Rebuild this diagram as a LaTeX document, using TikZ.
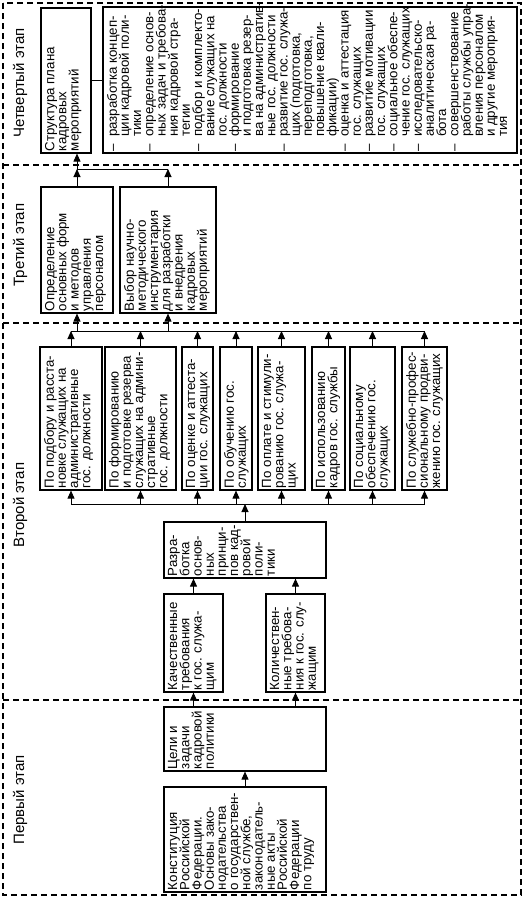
\documentclass[tikz,border=0pt]{standalone}
\usepackage{fontspec}
\setmainfont{Liberation Sans}
\usepackage{graphicx}
\usetikzlibrary{arrows.meta}
\tikzset{
  blk/.style={draw, line width=1.2pt, inner xsep=4pt, inner ysep=2pt},
  stagename/.style={rotate=90, inner sep=0pt, font=\fontsize{15}{16}\selectfont},
  frame/.style={line width=1.1pt, dash pattern=on 6pt off 4pt},
}
% lines on a fixed baseline grid, no breaking
\newcommand{\lns}[1]{\vtop{\lineskiplimit=-50pt\baselineskip=12.2pt\let\\\cr\halign{##\hfil\cr#1\crcr}}}
\newcommand{\dashlns}[1]{\vtop{\lineskiplimit=-50pt\baselineskip=12.2pt\let\\\cr\halign{##\hspace{3pt}&##\hfil\cr#1\crcr}}}
% text read from bottom to top: #1 length of the box, #2 its depth
\newcommand{\vtxt}[3]{\rotatebox{90}{\parbox[c][#2][t]{#1}{\hbox to\hsize{\lns{#3}\hfil}}}}

\begin{document}
\begin{tikzpicture}[x=1pt, y=-1pt, line width=0.9pt, >={Triangle[width=7pt,length=8pt]},
    font=\fontsize{13.3}{12.2}\selectfont]
    \useasboundingbox (0,0) rectangle (524,898);

    % Stages
    \draw[frame] (3,3) rectangle (521,895);
    \draw[frame] (3,165) -- (521,165);
    \draw[frame] (3,323) -- (521,323);
    \draw[frame] (3,700) -- (521,700);
    \node[stagename] (s4) at (20,83) {Четвертый этап};
    \node[stagename] (s3) at (20,245) {Третий этап};
    \node[stagename] (s2) at (20,505) {Второй этап};
    \node[stagename] (s1) at (20,800) {Первый этап};

    % Nodes
    \node[blk] (strukt) at (66,80.5) {\vtxt{141pt}{42pt}{Структура плана\\кадровых\\мероприятий}};
    \node[blk] (list) at (310,80) {\rotatebox{90}{\parbox[c][406pt][t]{142pt}{\hbox to\hsize{\dashlns{%
      – & разработка концеп-\\ & ции кадровой поли-\\ & тики\\
      – & определение основ-\\ & ных задач и требова-\\ & ния кадровой стра-\\ & тегии\\
      – & подбор и комплекто-\\ & вание служащих на\\ & гос. должности\\
      – & формирование\\ & и подготовка резер-\\ & ва на административ-\\ & ные гос. должности\\
      – & развитие гос. служа-\\ & щих (подготовка,\\ & переподготовка,\\ & повышение квали-\\ & фикации)\\
      – & оценка и аттестация\\ & гос. служащих\\
      – & развитие мотивации\\ & гос. служащих\\
      – & социальное обеспе-\\ & чение гос. служащих\\
      – & исследовательско-\\ & аналитическая ра-\\ & бота\\
      – & совершенствование\\ & работы службы упра-\\ & вления персоналом\\ & и другие мероприя-\\ & тия}\hfil}}}};

    \node[blk] (opred) at (77,250) {\vtxt{122pt}{64pt}{Определение\\основных форм\\и методов\\управления\\персоналом}};
    \node[blk] (vybor) at (168,250) {\vtxt{122pt}{88pt}{Выбор научно-\\методического\\инструментария\\для разработки\\и внедрения\\кадровых\\мероприятий}};

    \node[blk] (p1) at (71,418.5) {\vtxt{139pt}{54pt}{По подбору и расста-\\новке служащих на\\административные\\гос. должности}};
    \node[blk] (p2) at (140.5,418.5) {\vtxt{139pt}{63pt}{По формированию\\и подготовке резерва\\служащих на админи-\\стративные\\гос. должности}};
    \node[blk] (p3) at (197.5,418.5) {\vtxt{139pt}{23pt}{По оценке и аттеста-\\ции гос. служащих}};
    \node[blk] (p4) at (236,418.5) {\vtxt{139pt}{24pt}{По обучению гос.\\служащих}};
    \node[blk] (p5) at (281.5,418.5) {\vtxt{139pt}{39pt}{По оплате и стимули-\\рованию гос. служа-\\щих}};
    \node[blk] (p6) at (328.5,418.5) {\vtxt{139pt}{25pt}{По использованию\\кадров гос. службы}};
    \node[blk] (p7) at (372.5,418.5) {\vtxt{139pt}{37pt}{По социальному\\обеспечению гос.\\служащих}};
    \node[blk] (p8) at (424.5,418.5) {\vtxt{139pt}{37pt}{По служебно-профес-\\сиональному продви-\\жению гос. служащих}};

    \node[blk] (razr) at (245,550) {\vtxt{52pt}{154pt}{Разра-\\ботка\\основ-\\ных\\принци-\\пов кад-\\ровой\\поли-\\тики}};
    \node[blk] (kach) at (193.5,643) {\vtxt{94pt}{51pt}{Качественные\\требования\\к гос. служа-\\щим}};
    \node[blk] (kolich) at (295.5,643) {\vtxt{94pt}{51pt}{Количествен-\\ные требова-\\ния к гос. слу-\\жащим}};

    \node[blk] (celi) at (245,739) {\vtxt{60pt}{154pt}{Цели и\\задачи\\кадровой\\политики}};
    \node[blk] (konst) at (245,839.5) {\vtxt{101pt}{154pt}{Конституция\\Российской\\Федерации.\\Основы зако-\\нодательства\\о государствен-\\ной службе,\\законодатель-\\ные акты\\Российской\\Федерации\\по труду}};

    \coordinate (bus3) at (0,169);
    \coordinate (bus2u) at (0,331);
    \coordinate (bus2d) at (0,504);

    % Directed edges
    \draw (strukt.east) -- (strukt.east -| list.west);
    \draw[->] (opred.north) -- (opred.north |- bus3);
    \draw[->] (vybor.north) -- (vybor.north |- bus3);
    \draw (opred.north |- bus3) -- (vybor.north |- bus3);
    \draw[->] (opred.north |- bus3) -- (opred.north |- strukt.south);

    \foreach \n in {p1,p2,p3,p4,p5,p6,p7,p8} {
        \draw[->] (\n.north) -- (\n.north |- bus2u);
        \draw[->] (\n.south |- bus2d) -- (\n.south);
    }
    \draw (p1.north |- bus2u) -- (p8.north |- bus2u);
    \draw (p1.south |- bus2d) -- (p8.south |- bus2d);
    \draw[->] (opred.south |- bus2u) -- (opred.south);
    \draw[->] (vybor.south |- bus2u) -- (vybor.south);

    \draw[->] (razr.north) -- (razr.north |- bus2d);
    \draw[->] (kach.north) -- (kach.north |- razr.south);
    \draw[->] (kolich.north) -- (kolich.north |- razr.south);
    \draw[->] (kach.south |- celi.north) -- (kach.south);
    \draw[->] (kolich.south |- celi.north) -- (kolich.south);
    \draw[->] (konst.north) -- (celi.south);
\end{tikzpicture}
\end{document}
